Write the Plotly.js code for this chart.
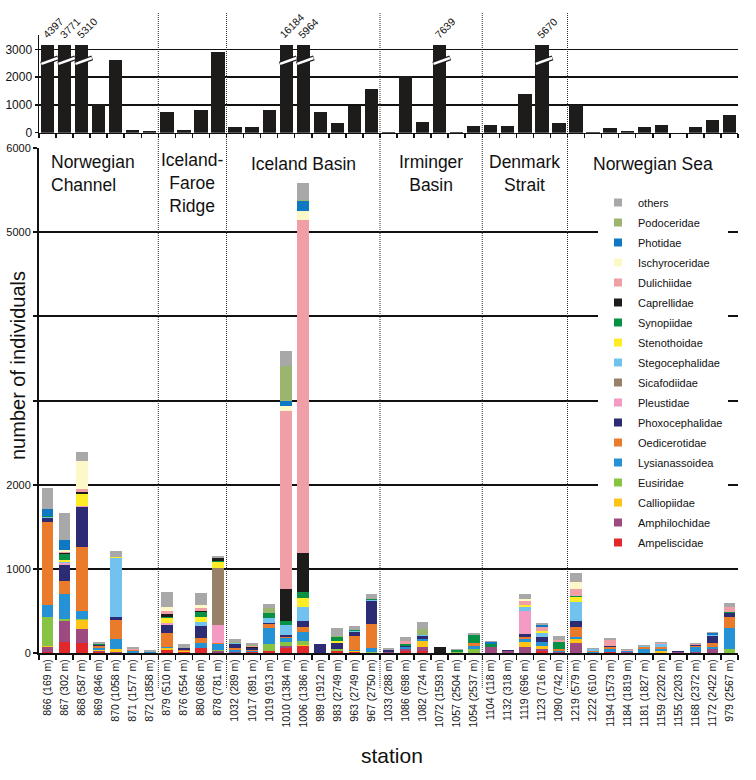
<!DOCTYPE html>
<html><head><meta charset="utf-8">
<script src="https://cdn.plot.ly/plotly-3.0.1.min.js"></script>
<style>html,body{margin:0;padding:0;background:#fff}#chart{width:756px;height:780px}</style>
</head><body><div id="chart"></div>
<script>
// ---------- DATA ----------
const stations = ['866 (169 m)','867 (302 m)','868 (587 m)','869 (846 m)','870 (1058 m)','871 (1577 m)','872 (1858 m)',
  '879 (510 m)','876 (554 m)','880 (686 m)','878 (781 m)',
  '1032 (289 m)','1017 (891 m)','1019 (913 m)','1010 (1384 m)','1006 (1386 m)','989 (1912 m)','983 (2749 m)','963 (2749 m)','967 (2750 m)',
  '1033 (288 m)','1086 (698 m)','1082 (724 m)','1072 (1593 m)','1057 (2504 m)','1054 (2537 m)',
  '1104 (118 m)','1132 (318 m)','1119 (696 m)','1123 (716 m)','1090 (742 m)',
  '1219 (579 m)','1222 (610 m)','1194 (1573 m)','1184 (1819 m)','1181 (1827 m)','1159 (2202 m)','1155 (2203 m)','1168 (2372 m)','1172 (2422 m)','979 (2567 m)'];

const regionNames = ['Norwegian<br>Channel','Iceland-<br>Faroe<br>Ridge','Iceland Basin','Irminger<br>Basin','Denmark<br>Strait','Norwegian Sea'];
const regionSizes = [7, 4, 9, 6, 5, 10];

// top panel: total values per station
const topValues = [4397,3771,5310,1030,2600,100,60,
  760,100,820,2890,
  220,190,810,16184,5964,750,360,970,1560,
  30,2040,370,7639,40,230,
  277,230,1380,5670,338,
  1000,40,170,70,190,277,0,215,455,625];

// families, bottom to top of the stack
const families = ['Ampeliscidae','Amphilochidae','Calliopiidae','Eusiridae','Lysianassoidea','Oedicerotidae',
  'Phoxocephalidae','Pleustidae','Sicafodiidae','Stegocephalidae','Stenothoidae','Synopiidae',
  'Caprellidae','Dulichiidae','Ischyroceridae','Photidae','Podoceridae','others'];

const Ampeliscidae    = [10,131,123,8,0,0,0, 36,8,55,0, 0,16,28,63,79,0,24,8,0, 0,24,20,0,0,0, 0,0,0,24,0, 0,0,12,0,0,0,0,0,0,0];
const Amphilochidae   = [60,250,162,20,16,5,0, 0,0,0,24, 8,0,0,16,0,5,0,0,0, 16,24,48,0,0,0, 67,20,71,28,12, 123,0,0,12,0,0,12,12,48,0];
const Calliopiidae    = [10,0,107,5,32,0,0, 20,20,0,0, 0,0,0,8,20,0,0,12,0, 0,0,75,0,0,0, 0,0,63,32,0, 40,0,0,0,0,24,0,0,0,0];
const Eusiridae       = [348,28,10,5,0,0,0, 8,0,0,16, 0,0,83,40,40,0,28,0,12, 0,0,0,0,8,48, 0,0,0,0,0, 0,0,0,0,0,0,0,0,0,48];
const Lysianassoidea  = [143,293,103,20,123,18,8, 8,0,67,63, 28,8,182,48,107,0,0,20,48, 0,20,24,0,0,36, 0,0,28,51,12, 24,8,36,8,48,28,0,55,20,253];
const Oedicerotidae   = [986,150,752,20,226,12,0, 170,10,60,16, 24,16,55,20,67,0,0,158,289, 0,0,0,0,0,36, 0,0,24,0,20, 119,16,28,0,20,24,0,16,55,123];
const Phoxocephalidae = [44,194,475,12,28,0,0, 87,16,139,0, 48,16,12,20,63,100,71,55,269, 24,16,40,0,0,0, 0,12,36,51,0, 75,0,12,0,0,0,16,12,79,55];
const Pleustidae      = [8,24,20,0,0,0,0, 28,0,0,210, 0,0,0,0,0,0,0,0,0, 0,0,0,0,0,0, 0,0,273,0,0, 0,0,0,0,0,0,0,0,0,0];
const Sicafodiidae    = [0,0,0,0,0,0,0, 0,0,0,685, 0,0,0,0,0,0,0,0,0, 0,0,0,0,0,0, 0,0,0,0,0, 0,0,0,0,0,0,0,0,0,0];
const Stegocephalidae = [10,16,0,5,709,5,0, 0,4,48,0, 8,0,51,119,170,0,0,8,12, 0,0,12,0,8,0, 0,0,55,55,0, 226,20,0,0,20,28,0,0,12,0];
const Stenothoidae    = [0,24,139,0,12,0,0, 55,0,63,71, 0,0,0,0,107,0,20,0,0, 0,0,0,0,0,0, 0,0,16,24,0, 55,0,0,0,0,0,0,0,0,0];
const Synopiidae      = [8,67,0,8,0,0,5, 20,0,55,12, 8,8,59,48,71,0,44,16,16, 0,20,0,0,16,95, 44,0,0,0,83, 12,0,0,8,0,0,0,0,0,12];
const Caprellidae     = [0,12,20,0,0,0,0, 28,0,12,28, 0,8,8,384,463,0,0,0,0, 0,0,0,67,0,0, 0,0,0,0,0, 0,0,0,0,0,0,0,0,0,0];
const Dulichiidae     = [0,16,36,0,0,8,0, 40,0,40,0, 0,8,0,2115,3960,0,0,0,0, 0,40,0,0,0,0, 0,0,51,40,28, 87,0,67,8,0,12,0,8,0,55];
const Ischyroceridae  = [0,16,340,0,0,0,0, 51,0,28,0, 0,0,0,59,99,0,0,0,0, 0,0,0,0,0,0, 0,0,28,0,0, 83,0,0,0,0,0,0,0,0,0];
const Photidae        = [80,123,0,0,0,0,0, 0,0,0,0, 0,0,0,51,119,0,0,0,0, 0,0,0,0,0,0, 20,0,0,28,0, 0,0,0,0,0,0,0,0,20,0];
const Podoceridae     = [0,0,0,0,0,0,0, 0,0,0,0, 12,12,55,416,12,0,16,0,0, 0,0,70,0,0,0, 0,0,0,0,0, 0,0,0,0,0,0,0,0,0,0];
const others          = [257,325,107,30,63,25,17, 178,48,150,32, 28,28,51,186,206,0,91,44,55, 15,44,85,0,16,24, 16,8,51,28,51, 107,12,20,12,8,20,0,12,16,51];

const seriesValues = [Ampeliscidae,Amphilochidae,Calliopiidae,Eusiridae,Lysianassoidea,Oedicerotidae,
  Phoxocephalidae,Pleustidae,Sicafodiidae,Stegocephalidae,Stenothoidae,Synopiidae,
  Caprellidae,Dulichiidae,Ischyroceridae,Photidae,Podoceridae,others];

// ---------- STYLE ----------
const colors = ['#e1282b','#9c4a80','#fcc417','#88c444','#2592d5','#e97b2b',
  '#2c2b73','#f39bc2','#978169','#72c2ef','#fdec26','#079144',
  '#1e1b1b','#ef9fa5','#fdf8c8','#0e78c2','#9bb46e','#a8a8a8'];
const FONT = 'Liberation Sans, Arial, sans-serif';
const CAP = 3150;
const L = 39, R = 18, T = 10, B = 127, W = 756, H = 780;
const PW = W - L - R, PH = H - T - B;
const px2x = p => (p - L) / PW;
const px2y = p => (H - B - p) / PH;

const traces = [];
families.forEach((f, k) => {
  traces.push({
    type: 'bar', x: stations, y: seriesValues[k], name: f,
    marker: {color: colors[k]}, showlegend: false, xaxis: 'x', yaxis: 'y', hoverinfo: 'name+y'
  });
});
// legend entries (top to bottom: others ... Ampeliscidae)
for (let k = families.length - 1; k >= 0; k--) {
  traces.push({
    type: 'scatter', mode: 'markers', x: [null], y: [null], name: families[k],
    legendgroup: families[k],
    marker: {symbol: 'square', size: 8, color: colors[k]}, xaxis: 'x', yaxis: 'y'
  });
}
// top panel
traces.push({
  type: 'bar', x: stations, y: topValues.map(v => Math.min(v, CAP)),
  marker: {color: '#1e1b1b'}, width: stations.map(() => 0.78),
  showlegend: false, xaxis: 'x2', yaxis: 'y2', hoverinfo: 'x'
});

const shapes = [];
const annotations = [];
// region dividers and labels
let start = 0;
regionSizes.forEach((n, r) => {
  if (r > 0) {
    shapes.push({type: 'line', xref: 'x', yref: 'paper', x0: start - 0.5, x1: start - 0.5,
      y0: px2y(688), y1: px2y(12), line: {color: '#333', width: 1, dash: '1px,1px'}, layer: 'above'});
  }
  const centre = start + (n - 1) / 2;
  const lines = regionNames[r].split('<br>').length;
  const ycent = [164, 174, 183][lines - 1];
  annotations.push({xref: 'x', yref: 'paper', x: centre, y: px2y(ycent), xshift: r === 0 ? -6 : 0,
    text: regionNames[r], showarrow: false, align: r === 0 ? 'left' : 'center',
    xanchor: 'center', yanchor: 'middle', font: {family: FONT, size: 17.5, color: '#111'}});
  start += n;
});
// break marks and labels for capped bars
topValues.forEach((v, i) => {
  if (v > CAP) {
    shapes.push({type: 'line', xref: 'x2', yref: 'y2', x0: i - 0.38, x1: i + 0.62, y0: 2470, y1: 2690,
      line: {color: '#1e1b1b', width: 5}, layer: 'above'});
    shapes.push({type: 'line', xref: 'x2', yref: 'y2', x0: i - 0.36, x1: i + 0.6, y0: 2473, y1: 2687,
      line: {color: '#ffffff', width: 2.5}, layer: 'above'});
    annotations.push({xref: 'x2', yref: 'y2', x: i, y: CAP, xshift: 5, yshift: 2,
      text: String(v), textangle: -45, showarrow: false, xanchor: 'center', yanchor: 'bottom',
      font: {family: FONT, size: 10.5, color: '#111'}});
  }
});
// axis titles
annotations.push({xref: 'paper', yref: 'paper', x: px2x(18), y: px2y(366), text: 'number of individuals',
  textangle: -90, showarrow: false, xanchor: 'center', yanchor: 'middle', font: {family: FONT, size: 20, color: '#111'}});
annotations.push({xref: 'paper', yref: 'paper', x: px2x(392), y: px2y(755), text: 'station',
  showarrow: false, xanchor: 'center', yanchor: 'middle', font: {family: FONT, size: 21, color: '#111'}});

const layout = {
  width: W, height: H, margin: {l: L, r: R, t: T, b: B}, paper_bgcolor: '#fff', plot_bgcolor: '#fff',
  barmode: 'stack', bargap: 0.31, font: {family: FONT, color: '#111'},
  xaxis: {domain: [0, 1], anchor: 'y', type: 'category', range: [-0.5, stations.length - 0.5],
    tickangle: -90, tickfont: {size: 10.5, family: FONT, color: '#111'}, ticks: 'outside', tickson: 'boundaries',
    ticklen: 5, tickwidth: 1.5, tickcolor: '#111', showline: true, linecolor: '#111', linewidth: 2,
    showgrid: false, fixedrange: true},
  yaxis: {domain: [0, px2y(148)], anchor: 'x', range: [0, 6000],
    tickvals: [0,1000,2000,3000,4000,5000,6000], ticktext: ['0','1000','2000','','','5000','6000'],
    tickfont: {size: 11, family: FONT, color: '#111'}, ticks: 'outside', ticklen: 4, tickwidth: 2, tickcolor: '#111',
    showline: true, linecolor: '#111', linewidth: 2, showgrid: true, gridcolor: '#111', gridwidth: 2,
    zeroline: false, fixedrange: true},
  xaxis2: {domain: [0, 1], anchor: 'y2', type: 'category', range: [-0.5, stations.length - 0.5],
    showticklabels: false, ticks: 'outside', tickson: 'boundaries', ticklen: 4, tickwidth: 1.5, tickcolor: '#111',
    showline: true, linecolor: '#111', linewidth: 1.5, showgrid: false, fixedrange: true},
  yaxis2: {domain: [px2y(132.7), px2y(35.4)], anchor: 'x2', range: [0, 3500],
    tickvals: [0,1000,2000,3000], tickfont: {size: 12, family: FONT, color: '#111'},
    ticks: 'outside', ticklen: 3, tickwidth: 1.5, tickcolor: '#111',
    showline: true, linecolor: '#111', linewidth: 1.5, showgrid: true, gridcolor: '#111', gridwidth: 1.5,
    zeroline: false, fixedrange: true},
  legend: {x: px2x(598), y: px2y(188), xanchor: 'left', yanchor: 'top', bgcolor: '#fff', borderwidth: 0,
    traceorder: 'grouped', tracegroupgap: 1, font: {family: FONT, size: 11, color: '#111'}},
  shapes: shapes, annotations: annotations, showlegend: true
};

Plotly.newPlot('chart', traces, layout, {displayModeBar: false, staticPlot: true});
</script>
</body></html>
